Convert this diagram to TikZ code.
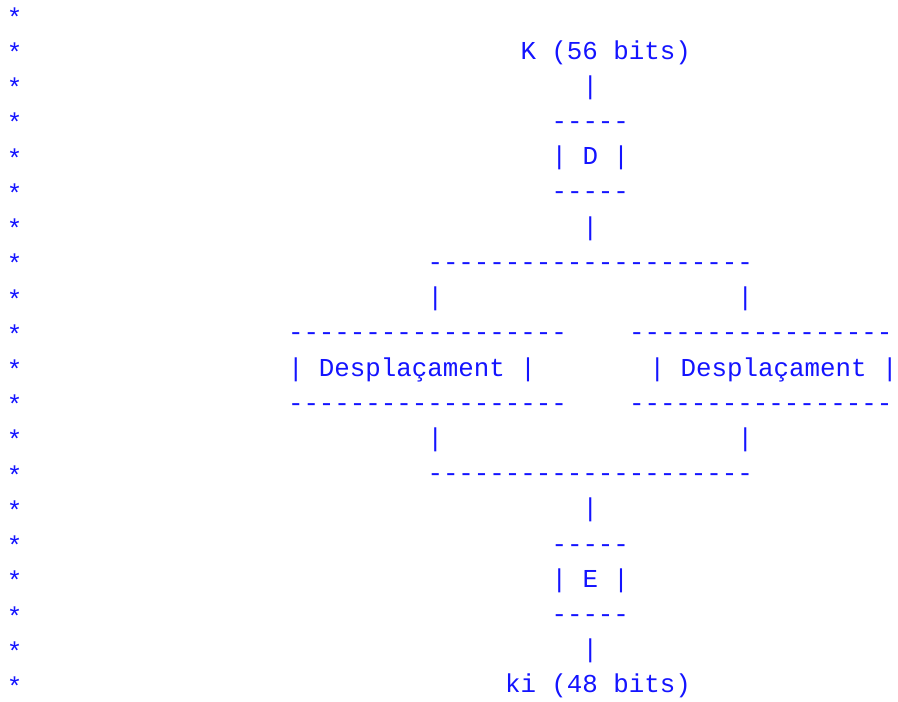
\documentclass[tikz,border=0pt]{standalone}
\usepackage{fontspec}
\newfontfamily\cour{Liberation Mono}
\begin{document}
\begin{tikzpicture}[x=1pt,y=-1pt,
  asc/.style={anchor=base west, inner sep=0pt, outer sep=0pt, text={rgb,255:red,20;green,20;blue,255},
    font=\cour\fontsize{25.83}{30}\selectfont}]
\useasboundingbox (0,0) rectangle (898,702);
% row baseline: 23.8 + 35.22*r ; column left: 288 + 15.5*c
\foreach \r in {0,...,19} \node[asc] (s\r) at (6.75, 26.3+35.22*\r) {*};
\node[asc] (k)   at (520.5, 59.02)  {K (56 bits)};
\node[asc] (p1)  at (582.5, 94.24)  {|};
\node[asc] (d1t) at (551.5, 129.46) {-----};
\node[asc] (d1)  at (551.5, 164.68) {| D |};
\node[asc] (d1b) at (551.5, 199.9)  {-----};
\node[asc] (p2)  at (582.5, 235.12) {|};
\node[asc] (h1)  at (427.5, 270.34) {---------------------};
\node[asc] (pl1) at (427.5, 305.56) {|};
\node[asc] (pr1) at (737.5, 305.56) {|};
\node[asc] (lbt) at (288, 340.78) {------------------};
\node[asc] (rbt) at (629, 340.78) {-----------------};
\node[asc] (lb)  at (288, 376.0)  {| Desplaçament |};
\node[asc] (rb)  at (649.6, 376.0) {| Desplaçament |};
\node[asc] (lbb) at (288, 411.22) {------------------};
\node[asc] (rbb) at (629, 411.22) {-----------------};
\node[asc] (pl2) at (427.5, 446.44) {|};
\node[asc] (pr2) at (737.5, 446.44) {|};
\node[asc] (h2)  at (427.5, 481.66) {---------------------};
\node[asc] (p3)  at (582.5, 516.88) {|};
\node[asc] (e1t) at (551.5, 552.1)  {-----};
\node[asc] (e1)  at (551.5, 587.32) {| E |};
\node[asc] (e1b) at (551.5, 622.54) {-----};
\node[asc] (p4)  at (582.5, 657.76) {|};
\node[asc] (ki)  at (505, 692.98)   {ki (48 bits)};
\end{tikzpicture}
\end{document}
